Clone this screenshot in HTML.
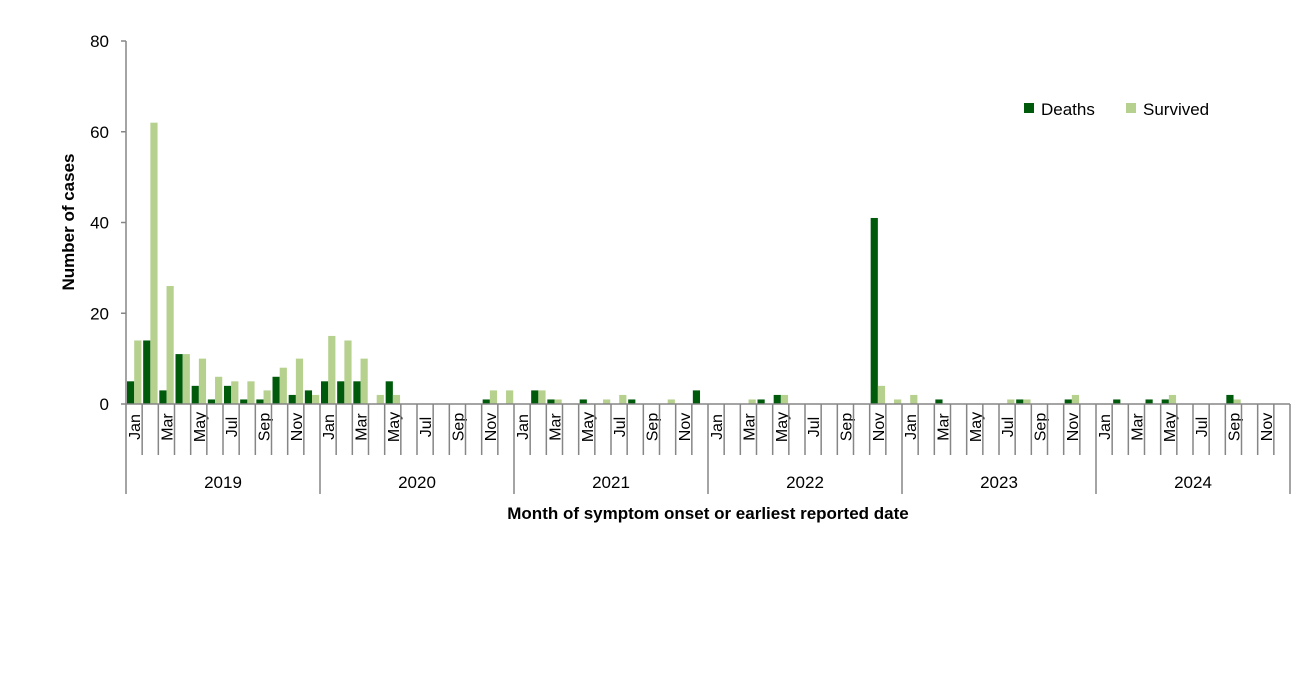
<!DOCTYPE html>
<html><head><meta charset="utf-8"><style>
body{margin:0;background:#fff;font-family:"Liberation Sans",sans-serif}
svg text{font-family:"Liberation Sans",sans-serif;fill:#000}
</style></head><body>
<svg id="c" width="1309" height="687" xmlns="http://www.w3.org/2000/svg"></svg>
<script>
const years=["2019","2020","2021","2022","2023","2024"];
const monthNames=["Jan","Feb","Mar","Apr","May","Jun","Jul","Aug","Sep","Oct","Nov","Dec"];
const deaths=[5,14,3,11,4,1,4,1,1,6,2,3, 5,5,5,0,5,0,0,0,0,0,1,0, 0,3,1,0,1,0,0,1,0,0,0,3, 0,0,0,1,2,0,0,0,0,0,41,0, 0,0,1,0,0,0,0,1,0,0,1,0, 0,1,0,1,1,0,0,0,2,0,0,0];
const survived=[14,62,26,11,10,6,5,5,3,8,10,2, 15,14,10,2,2,0,0,0,0,0,3,3, 0,3,1,0,0,1,2,0,0,1,0,0, 0,0,1,0,2,0,0,0,0,0,4,1, 2,0,0,0,0,0,1,1,0,0,2,0, 0,0,0,0,2,0,0,0,1,0,0,0];
const yTicks=[0,20,40,60,80];
const NS="http://www.w3.org/2000/svg";
const svg=document.getElementById('c');
const x0=126,x1=1290,yb=404,yt=41,ymax=80;
const mw=(x1-x0)/deaths.length;
const X=i=>x0+i*mw;
const Y=v=>yb-(v/ymax)*(yb-yt);
function mk(t,a,txt){const e=document.createElementNS(NS,t);for(const k in a)e.setAttribute(k,a[k]);if(txt!==undefined)e.textContent=txt;svg.appendChild(e);return e;}
// y axis
let e=mk('line',{x1:x0,y1:yt,x2:x0,y2:yb,stroke:'#868686','stroke-width':1.5});


yTicks.forEach(v=>{
 let t=mk('line',{x1:x0-5,y1:Y(v),x2:x0,y2:Y(v),stroke:'#868686','stroke-width':1.5});
 
 
 let l=mk('text',{x:x0-17,y:Y(v)+6,'text-anchor':'end','font-size':17},v);
 
 
});
// bars
const bw=7.2;
deaths.forEach((v,i)=>{
 let r=mk('rect',{x:X(i)+1,y:Y(v),width:bw,height:yb-Y(v),fill:'#005a0c'});
 
 
 let s=mk('rect',{x:X(i)+1+bw,y:Y(survived[i]),width:bw,height:yb-Y(survived[i]),fill:'#b6d18e'});
 
 
});
// x axis
e=mk('line',{x1:x0,y1:yb,x2:x1,y2:yb,stroke:'#868686','stroke-width':1.5});


for(let i=0;i<=deaths.length;i++){
 const yr=i%12===0;
 let t=mk('line',{x1:X(i),y1:yb,x2:X(i),y2:yr?494:455,stroke:'#868686','stroke-width':1.5});
 
 
 if(i<deaths.length && (i%12)%2===0){
  const cx=X(i)+mw/2+6;
  let l=mk('text',{x:cx,y:427,'text-anchor':'middle','font-size':16,transform:`rotate(-90 ${cx} 427)`},monthNames[i%12]);
  
  
 }
}
years.forEach((y,k)=>{
 let l=mk('text',{x:X(k*12+6),y:488,'text-anchor':'middle','font-size':17},y);
 
 
});
e=mk('text',{x:708,y:519,'text-anchor':'middle','font-size':17,'font-weight':'bold'},'Month of symptom onset or earliest reported date');


e=mk('text',{x:74,y:222,'text-anchor':'middle','font-size':17,'font-weight':'bold',transform:'rotate(-90 74 222)'},'Number of cases');


// legend
e=mk('rect',{x:1024,y:103,width:10,height:10,fill:'#005a0c'});


e=mk('text',{x:1041,y:115,'font-size':17},'Deaths');


e=mk('rect',{x:1126,y:103,width:10,height:10,fill:'#b6d18e'});


e=mk('text',{x:1143,y:115,'font-size':17},'Survived');


</script>
</body></html>
